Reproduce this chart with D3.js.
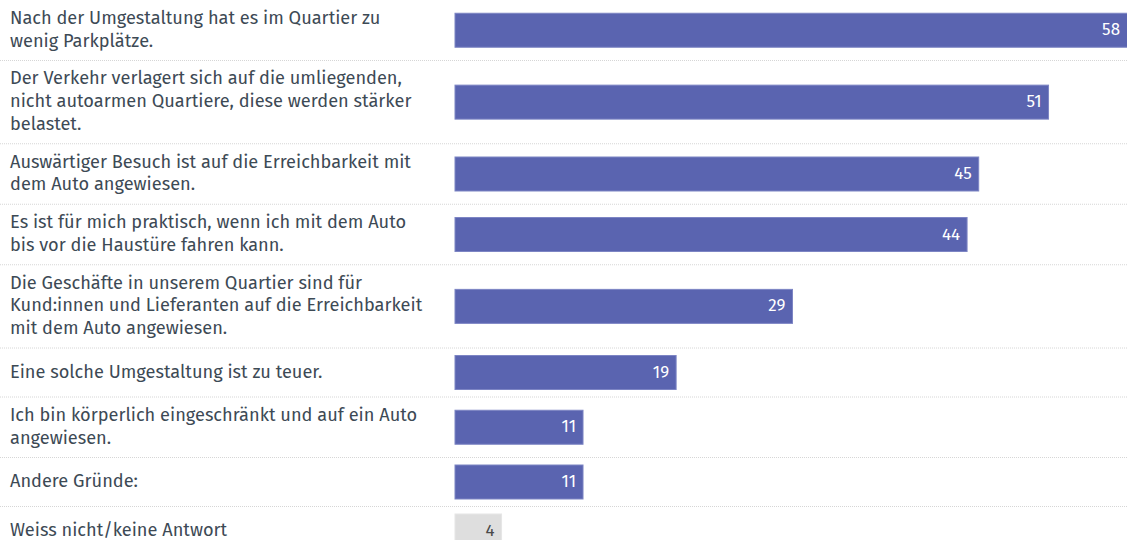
<!DOCTYPE html>
<html>
<head>
<meta charset="utf-8">
<script src="https://cdn.jsdelivr.net/npm/d3@7"></script>
<style>
  html, body { margin: 0; padding: 0; background: #fff; }
  svg { display: block; }
  .label { font-family: "Fira Sans", "Open Sans", sans-serif; font-size: 18.2px; fill: #3d4a55; }
  .value { font-family: "Fira Sans", "Open Sans", sans-serif; font-size: 17px; }
</style>
</head>
<body>
<div id="chart"></div>
<script>
// answers (line breaks as in the original layout)
var categories = [
  "Nach der Umgestaltung hat es im Quartier zu\nwenig Parkplätze.",
  "Der Verkehr verlagert sich auf die umliegenden,\nnicht autoarmen Quartiere, diese werden stärker\nbelastet.",
  "Auswärtiger Besuch ist auf die Erreichbarkeit mit\ndem Auto angewiesen.",
  "Es ist für mich praktisch, wenn ich mit dem Auto\nbis vor die Haustüre fahren kann.",
  "Die Geschäfte in unserem Quartier sind für\nKund:innen und Lieferanten auf die Erreichbarkeit\nmit dem Auto angewiesen.",
  "Eine solche Umgestaltung ist zu teuer.",
  "Ich bin körperlich eingeschränkt und auf ein Auto\nangewiesen.",
  "Andere Gründe:",
  "Weiss nicht/keine Antwort"
];
var values = [58, 51, 45, 44, 29, 19, 11, 11, 4];
var neutral = [false, false, false, false, false, false, false, false, true];

var width = 1127, height = 540;
var barLeft = 455, barH = 34, lineH = 22.75, pad = 15;

var rows = categories.map(function(c, i) {
  var lines = c.split("\n");
  return {
    lines: lines,
    value: values[i],
    neutral: neutral[i],
    h: Math.max(lines.length * lineH, barH) + pad
  };
});
var y0 = 0;
rows.forEach(function(r) { r.y = y0; y0 += r.h; });

var x = d3.scaleLinear().domain([0, 58]).range([barLeft, 1130]);

var svg = d3.select("#chart").append("svg")
  .attr("width", width)
  .attr("height", height);

var row = svg.selectAll("g.row")
  .data(rows)
  .enter().append("g")
    .attr("class", "row")
    .attr("transform", function(d) { return "translate(0," + d.y + ")"; });

// dotted separators below each row
row.filter(function(d, i) { return i < rows.length - 1; })
  .append("line")
    .attr("x1", 0)
    .attr("x2", width)
    .attr("y1", function(d) { return d.h; })
    .attr("y2", function(d) { return d.h; })
    .style("stroke", "#d6d6d6")
    .style("stroke-dasharray", "1,1");

row.append("text")
  .attr("class", "label")
  .each(function(d) {
    var t = d3.select(this);
    var top = d.h / 2 - d.lines.length * lineH / 2;
    d.lines.forEach(function(l, j) {
      t.append("tspan")
        .attr("x", 10)
        .attr("y", top + j * lineH + lineH * 0.72)
        .text(l);
    });
  });

row.append("rect")
  .attr("x", barLeft)
  .attr("y", function(d) { return d.h / 2 - barH / 2; })
  .attr("width", function(d) { return x(d.value) - barLeft; })
  .attr("height", barH)
  .style("fill", function(d) { return d.neutral ? "#dedede" : "#5a64b0"; })
  .style("stroke", function(d) { return d.neutral ? "#e6e6e6" : "#7d85c4"; })
  .style("stroke-width", 1);

row.append("text")
  .attr("class", "value")
  .attr("x", function(d) { return Math.min(x(d.value), width) - 7; })
  .attr("y", function(d) { return d.h / 2 + 5; })
  .attr("text-anchor", "end")
  .style("fill", function(d) { return d.neutral ? "#4a4a4a" : "#fff"; })
  .text(function(d) { return d.value; });
</script>
</body>
</html>
